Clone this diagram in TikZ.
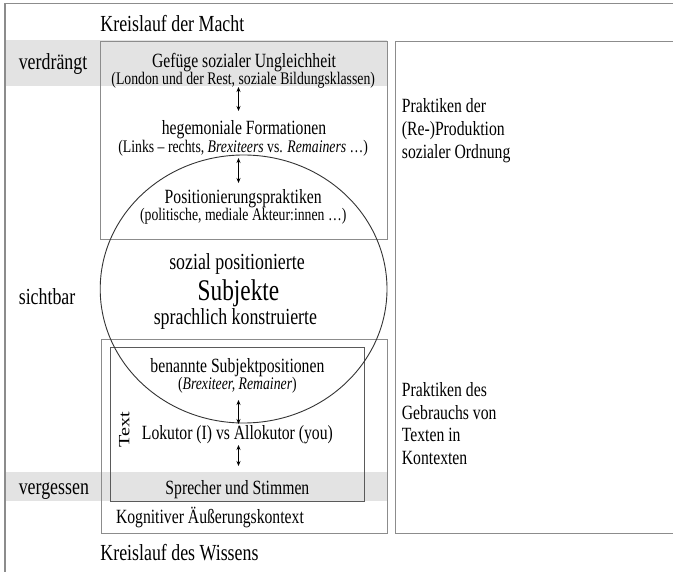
\documentclass[tikz,border=0pt]{standalone}
\usepackage{fontspec}
\setmainfont{Liberation Serif}[FakeStretch=0.777]
\newfontfamily\plainserif{Liberation Serif}
\usetikzlibrary{arrows.meta}
\definecolor{bandgray}{HTML}{E3E3E3}
\definecolor{linegray}{HTML}{8C8C8C}
\definecolor{darkline}{HTML}{5A5A5A}
\definecolor{ellline}{HTML}{333333}
\begin{document}
\begin{tikzpicture}[x=1pt,y=-1pt,
  txt/.style={inner sep=0pt, anchor=base},
  main/.style={txt, font=\fontsize{20.2}{23}\selectfont},
  subt/.style={txt, font=\fontsize{17.7}{20}\selectfont},
  biglbl/.style={txt, font=\fontsize{23}{26}\selectfont},
  huge/.style={txt, font=\fontsize{30}{34}\selectfont},
  leftlbl/.style={biglbl, anchor=base west},
  rightlbl/.style={main, anchor=base west},
  boxline/.style={draw=linegray, line width=1pt},
  band/.style={fill=bandgray},
  dbl/.style={{Stealth[length=5pt,width=4pt]}-{Stealth[length=5pt,width=4pt]}, line width=0.6pt, black}
]
\useasboundingbox (0,0) rectangle (673,572);
% bands
\fill[band] (5,40) rectangle (387,86);
\fill[band] (5,472) rectangle (387,501);
% outer frame
\draw[draw=linegray, line width=1.2pt] (5,572) -- (5,3.5) -- (673,3.5);
% boxes
\draw[boxline] (100.2,42) rectangle (387,240);
\draw[boxline] (673,42) -- (395.5,42) -- (395.5,533) -- (673,533);
\draw[boxline] (101,340) rectangle (387.7,533);
\draw[draw=darkline, line width=1pt] (110.3,348) rectangle (364.4,501);
% ellipse
\draw[draw=ellline, line width=0.9pt] (243.6,289) ellipse [x radius=143.4, y radius=134];
% titles
\node[biglbl, anchor=base west] (macht) at (100.2,32) {Kreislauf der Macht};
\node[biglbl, anchor=base west] (wissen) at (100.2,560) {Kreislauf des Wissens};
% left labels
\node[leftlbl] (verdr) at (18.6,69.5) {verdrängt};
\node[leftlbl] (sicht) at (18.6,304.5) {sichtbar};
\node[leftlbl] (vergess) at (18.6,494.5) {vergessen};
% upper box
\node[main] (gef) at (244,67.5) {Gefüge sozialer Ungleichheit};
\node[subt] (lond) at (243.2,84.5) {(London und der Rest, soziale Bildungsklassen)};
\node[main] (hege) at (244,134.5) {hegemoniale Formationen};
\node[subt] (links) at (243.2,153) {(Links – rechts, \textit{Brexiteers} vs. \textit{Remainers} …)};
\node[main] (posi) at (243.2,203.5) {Positionierungspraktiken};
\node[subt] (polit) at (243.2,221) {(politische, mediale Akteur:innen …)};
% ellipse texts
\node[biglbl] (sozpos) at (237,269.5) {sozial positionierte};
\node[huge] (subj) at (238.5,301) {Subjekte};
\node[biglbl] (sprach) at (235.4,324.5) {sprachlich konstruierte};
% lower box
\node[main] (benannt) at (237.4,372.5) {benannte Subjektpositionen};
\node[subt] (brex) at (237.4,390) {(\textit{Brexiteer, Remainer})};
\node[main] (lok) at (237.4,439) {Lokutor (I) vs Allokutor (you)};
\node[main] (sprech) at (237.4,494.5) {Sprecher und Stimmen};
\node[main, anchor=base west] (kogn) at (115.8,523.5) {Kognitiver Äußerungskontext};
\node[inner sep=0pt, anchor=center, rotate=90, font=\plainserif\fontsize{20.2}{23}\selectfont] (textlbl) at (124.3,430) {\scalebox{1}[0.777]{Text}};
% right labels
\node[rightlbl] (r1) at (401.7,113) {Praktiken der};
\node[rightlbl] (r2) at (401.7,136) {(Re-)Produktion};
\node[rightlbl] (r3) at (401.7,159) {sozialer Ordnung};
\node[rightlbl] (r4) at (401.7,396.5) {Praktiken des};
\node[rightlbl] (r5) at (401.7,419.5) {Gebrauchs von};
\node[rightlbl] (r6) at (401.7,442) {Texten in};
\node[rightlbl] (r7) at (401.7,464.5) {Kontexten};
% arrows
\coordinate (a1s) at (238.5,87);
\coordinate (a1e) at (238.5,111);
\coordinate (a2s) at (238.5,158);
\coordinate (a2e) at (238.5,183);
\coordinate (a3s) at (238.5,400);
\coordinate (a3e) at (238.5,424);
\coordinate (a4s) at (238.5,445);
\coordinate (a4e) at (238.5,466);
\draw[dbl] (a1s) -- (a1e);
\draw[dbl] (a2s) -- (a2e);
\draw[dbl] (a3s) -- (a3e);
\draw[dbl] (a4s) -- (a4e);
\end{tikzpicture}
\end{document}
